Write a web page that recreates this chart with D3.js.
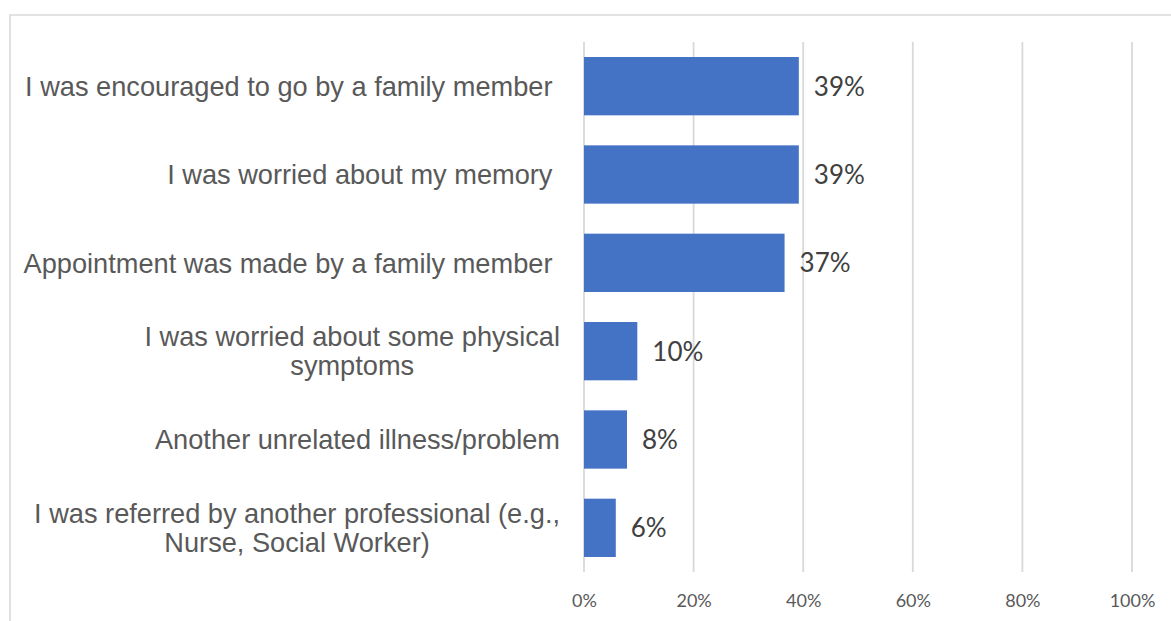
<!DOCTYPE html>
<html>
<head>
<meta charset="utf-8">
<script src="https://cdn.jsdelivr.net/npm/d3@7"></script>
<style>
  html, body { margin: 0; padding: 0; background: #ffffff; }
  svg { display: block; }
  .cat text { white-space: pre; }
</style>
</head>
<body>
<svg id="chart" width="1171" height="621"></svg>
<script>
// Reasons for attending the appointment (share of respondents)
const categories = [
  ["I was encouraged to go by a family member "],
  ["I was worried about my memory "],
  ["Appointment was made by a family member "],
  ["I was worried about some physical", "symptoms"],
  ["Another unrelated illness/problem"],
  ["I was referred by another professional (e.g.,", "Nurse, Social Worker)"]
];
const values = [0.392, 0.392, 0.366, 0.0973, 0.0785, 0.058];
const tickValues = [0, 0.2, 0.4, 0.6, 0.8, 1.0];

const svg = d3.select("#chart");
const W = 1171, H = 621;

const x = d3.scaleLinear().domain([0, 1]).range([584, 1132]);
const y = d3.scaleBand()
  .domain(d3.range(categories.length))
  .range([42, 572])
  .paddingInner(0.34)
  .paddingOuter(0.17);

const pct = d3.format(".0%");

// chart frame (only the top and left edges fall inside the view)
svg.append("path")
  .attr("d", `M10,${H + 5} L10,15 L${W + 5},15`)
  .attr("fill", "none")
  .attr("stroke", "#d9d9d9")
  .attr("stroke-width", 1.6);

// vertical gridlines
svg.append("g")
  .selectAll("line")
  .data(tickValues)
  .join("line")
  .attr("x1", d => x(d)).attr("x2", d => x(d))
  .attr("y1", 42).attr("y2", 572)
  .attr("stroke", "#d9d9d9")
  .attr("stroke-width", 1.8);

// bottom axis labels
const xAxis = d3.axisBottom(x).tickValues(tickValues).tickFormat(pct).tickSize(0).tickPadding(0);
const gx = svg.append("g").attr("transform", "translate(0,594)").call(xAxis);
gx.select(".domain").remove();
gx.selectAll("text")
  .attr("dy", "0.71em")
  .attr("font-family", "Lato, 'Open Sans', sans-serif")
  .attr("font-size", 18)
  .attr("fill", "#595959");

// bars
svg.append("g")
  .selectAll("rect")
  .data(values)
  .join("rect")
  .attr("x", x(0))
  .attr("y", (d, i) => y(i))
  .attr("width", d => x(d) - x(0))
  .attr("height", y.bandwidth())
  .attr("fill", "#4472c4");

// value labels
svg.append("g")
  .selectAll("text")
  .data(values)
  .join("text")
  .attr("x", d => x(d) + 15)
  .attr("y", (d, i) => y(i) + y.bandwidth() / 2)
  .attr("dy", "0.36em")
  .attr("font-family", "Lato, 'Open Sans', sans-serif")
  .attr("font-size", 26)
  .attr("fill", "#404040")
  .text(d => pct(d));

// category labels: each block sits right-aligned to the axis, lines centred within it
const labelRight = 560;
const lineH = 29;
const cat = svg.append("g").attr("class", "cat")
  .attr("font-family", "'Liberation Sans', Arial, sans-serif")
  .attr("font-size", 27.2)
  .attr("fill", "#595959");

categories.forEach((lines, i) => {
  const cy = y(i) + y.bandwidth() / 2;
  const t = cat.append("text");
  const spans = t.selectAll("tspan")
    .data(lines)
    .join("tspan")
    .attr("xml:space", "preserve")
    .text(d => d);
  // measure widths of each line
  const widths = [];
  spans.each(function () { widths.push(this.getComputedTextLength()); });
  const blockW = d3.max(widths);
  const cx = labelRight - blockW / 2;
  const top = cy - (lines.length - 1) * lineH / 2;
  spans
    .attr("x", cx)
    .attr("y", (d, j) => top + j * lineH)
    .attr("dy", "0.36em")
    .attr("text-anchor", "middle");
});
</script>
</body>
</html>
